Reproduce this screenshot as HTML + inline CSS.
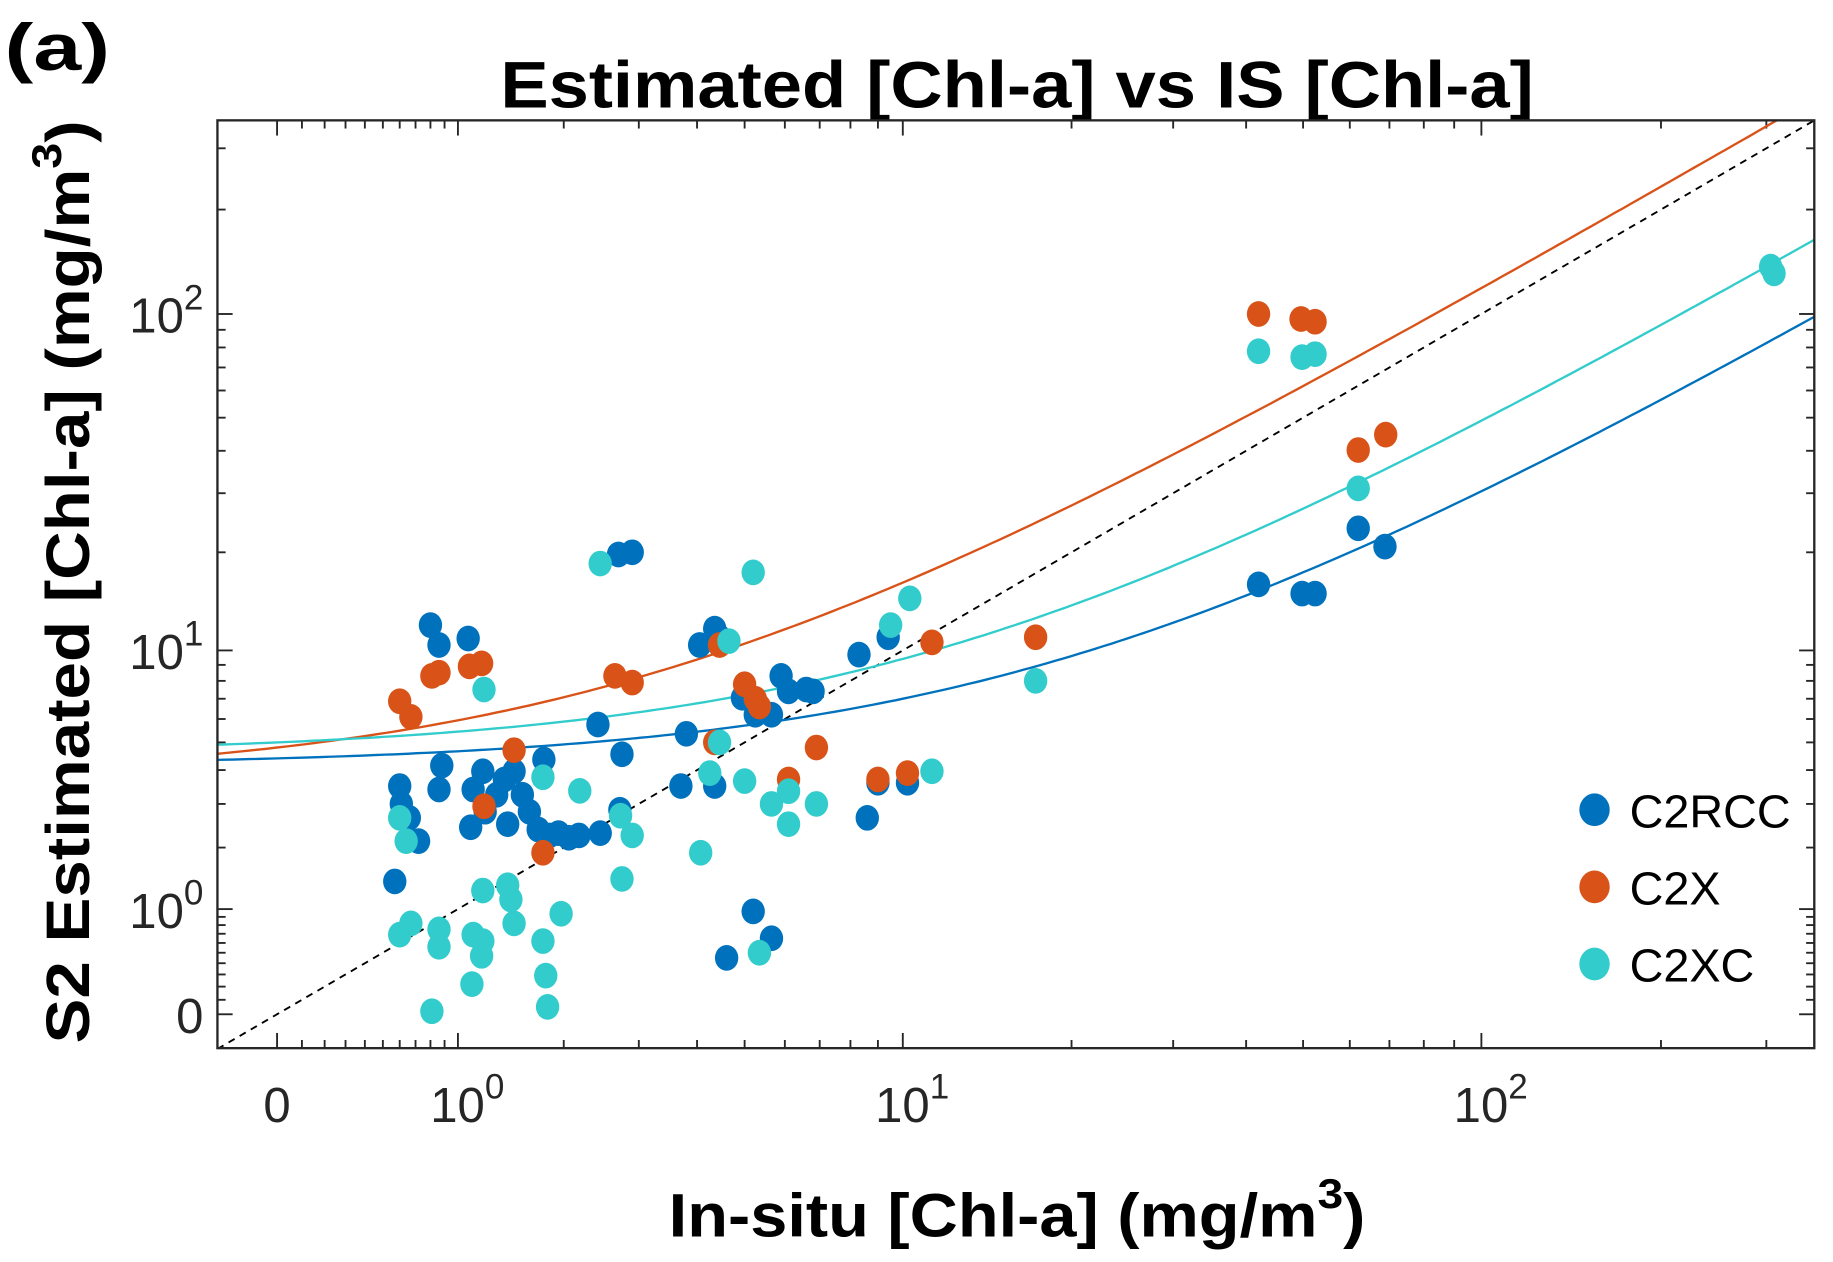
<!DOCTYPE html>
<html><head><meta charset="utf-8"><style>
html,body{margin:0;padding:0;background:#fff;}
svg{display:block;}
text{font-family:"Liberation Sans",sans-serif;}
</style></head><body>
<svg id="chart" width="1833" height="1262" viewBox="0 0 1568 1080" preserveAspectRatio="none" xmlns="http://www.w3.org/2000/svg">
<rect width="1568" height="1080" fill="#fff"/>
<text x="4" y="60" font-size="56" font-weight="bold" textLength="90" lengthAdjust="spacingAndGlyphs">(a)</text>
<text x="870" y="92" font-size="56" font-weight="bold" text-anchor="middle" textLength="884" lengthAdjust="spacingAndGlyphs">Estimated [Chl-a] vs IS [Chl-a]</text>
<text x="572" y="1058" font-size="52" font-weight="bold" textLength="596" lengthAdjust="spacingAndGlyphs">In-situ [Chl-a] (mg/m<tspan dy="-24" font-size="36">3</tspan><tspan dy="24">)</tspan></text>
<text transform="translate(76,893) rotate(-90)" x="0" y="0" font-size="52" font-weight="bold" textLength="790" lengthAdjust="spacingAndGlyphs">S2 Estimated [Chl-a] (mg/m<tspan dy="-24" font-size="36">3</tspan><tspan dy="24">)</tspan></text>
<g id="plot"></g>
</svg>
<script>
const xTickValues = [0, 1, 10, 100];
const xTickLabels = ["0", "10|0", "10|1", "10|2"];
const yTickValues = [0, 1, 10, 100];
const yTickLabels = ["0", "10|0", "10|1", "10|2"];
const seriesNames = ["C2RCC", "C2X", "C2XC"];
const seriesColors = ["#0072BD", "#D95319", "#33CCCC"];

const c2rccX = [0.80,0.86,1.08,0.60,0.61,0.66,0.72,0.88,0.86,1.12,1.20,1.10,1.22,1.32,1.39,1.48,1.42,1.56,1.63,1.72,1.78,1.84,1.94,2.06,2.18,2.45,0.57,2.42,2.72,2.75,2.9,2.7,4.05,4.35,4.45,3.8,3.7,4.35,4.95,5.25,5.65,5.9,6.1,6.6,6.8,8.3,9.4,9.0,10.2,8.6,5.2,4.6,5.65,42,49.8,52.4,62,68.8];
const c2rccY = [12.0,10.4,10.9,3.5,3.0,2.65,2.13,4.15,3.4,3.4,3.96,2.43,2.8,3.25,3.7,3.96,2.5,3.25,2.8,2.38,4.36,2.25,2.3,2.2,2.25,2.3,1.4,5.75,2.85,4.55,20.0,19.7,10.4,11.7,11.0,5.35,3.5,3.5,7.05,6.2,6.2,8.3,7.4,7.5,7.4,9.7,11.0,3.6,3.6,2.65,0.97,0.45,0.65,16,15.0,15.0,23.6,20.8];

const c2xX = [0.60,0.67,0.81,0.86,1.09,1.19,1.21,1.48,1.77,2.65,2.9,4.45,4.35,5.0,5.25,5.35,6.1,6.9,9.0,10.2,11.3,17.3,42,49.6,52.4,62,69];
const c2xY = [6.87,6.1,8.3,8.5,8.9,9.1,2.94,4.7,1.9,8.3,7.9,10.4,5.0,7.8,7.0,6.6,3.7,4.8,3.7,3.9,10.6,11.0,100,96.7,95,40.2,44.6];

const c2xcX = [1.21,0.60,0.64,0.60,0.67,0.81,0.86,0.86,1.12,1.20,1.19,1.11,1.20,1.45,1.48,1.42,1.77,1.77,1.80,1.82,1.97,2.19,2.45,2.73,2.9,2.75,4.07,4.25,4.45,4.65,5.0,5.2,5.35,5.65,6.1,6.1,6.9,9.5,10.3,11.3,17.3,42,49.8,52.4,62,305,309];
const c2xcY = [7.5,2.65,2.13,0.69,0.82,0.02,0.75,0.56,0.69,0.62,0.47,0.22,1.26,1.13,0.82,1.34,3.77,0.62,0.29,0.05,0.94,3.36,18.5,2.7,2.25,1.44,1.9,3.9,5.0,10.7,3.65,17.4,0.5,3.0,2.5,3.35,3.0,12.0,14.5,3.96,8.0,78,75,76.5,31,137,131];

const fitSlopes = [0.26, 1.14, 0.44];
const fitIntercepts = [4.4, 4.8, 5.0];

const L=186,R=1552,T=103,B=897;
const X0=237,XK=514,Y0=868,YK=299;
function tx(v){return X0+XK*Math.log10(v+1);}
function ty(v){return Y0-YK*Math.log10(v+1);}
const vMin=Math.pow(10,(L-X0)/XK)-1, vMax=Math.pow(10,(R-X0)/XK)-1;

const NS="http://www.w3.org/2000/svg";
const plot=document.getElementById('plot');
function mk(tag,attrs,parent){const e=document.createElementNS(NS,tag);for(const k in attrs)e.setAttribute(k,attrs[k]);(parent||plot).appendChild(e);return e;}

const defs=mk('defs',{});
const cp=mk('clipPath',{id:'clip'},defs);
mk('rect',{x:L,y:T,width:R-L,height:B-T},cp);

const ticks=mk('g',{stroke:'#262626','stroke-width':1.6});


const minor=[];
for(let i=1;i<=9;i++)minor.push(i/10);
for(let d of [1,10,100])for(let i=2;i<=9;i++)if(d*i<vMax)minor.push(d*i);
minor.forEach(v=>{
  const x=tx(v),y=ty(v);
  if(x>L&&x<R){mk('line',{x1:x,y1:B,x2:x,y2:B-7},ticks);mk('line',{x1:x,y1:T,x2:x,y2:T+7},ticks);}
  if(y>T&&y<B){mk('line',{x1:L,y1:y,x2:L+7,y2:y},ticks);mk('line',{x1:R,y1:y,x2:R-7,y2:y},ticks);}
});
xTickValues.forEach(v=>{const x=tx(v);mk('line',{x1:x,y1:B,x2:x,y2:B-13},ticks);mk('line',{x1:x,y1:T,x2:x,y2:T+13},ticks);});
yTickValues.forEach(v=>{const y=ty(v);mk('line',{x1:L,y1:y,x2:L+13,y2:y},ticks);mk('line',{x1:R,y1:y,x2:R-13,y2:y},ticks);});

function tickLabel(lbl,x,y,anchor,name){
  const t=mk('text',{x:x,y:y,'font-size':42,'text-anchor':anchor,fill:'#262626'});
  
  
  const p=lbl.split('|');
  t.appendChild(document.createTextNode(p[0]));
  if(p[1]!==undefined){const s=mk('tspan',{dy:-20,'font-size':30},t);s.textContent=p[1];}
}
xTickValues.forEach((v,i)=>{const lab=xTickLabels[i];tickLabel(lab,tx(v)+(lab.length>1?8:0),960,'middle','x-tick-label');});
yTickValues.forEach((v,i)=>{tickLabel(yTickLabels[i],174,ty(v)+16,'end','y-tick-label');});

const lines=mk('g',{'clip-path':'url(#clip)',fill:'none'});
const dash=mk('path',{d:'M'+tx(vMin)+','+ty(vMin)+' L'+tx(vMax)+','+ty(vMax),stroke:'#000','stroke-width':1.6,'stroke-dasharray':'6,5'},lines);


[0,1,2].forEach(i=>{
  let d='';
  for(let k=0;k<=200;k++){
    const t=Math.log10(vMin+1)+(Math.log10(vMax+1)-Math.log10(vMin+1))*k/200;
    const v=Math.pow(10,t)-1;
    const yv=fitSlopes[i]*v+fitIntercepts[i];
    d+=(k?'L':'M')+tx(v).toFixed(1)+','+ty(yv).toFixed(1);
  }
  const p=mk('path',{d:d,stroke:seriesColors[i],'stroke-width':2},lines);
  
  
});

const seriesX=[c2rccX,c2xX,c2xcX], seriesY=[c2rccY,c2xY,c2xcY];
[0,1,2].forEach(i=>{
  const g=mk('g',{fill:seriesColors[i]});
  
  
  seriesX[i].forEach((xv,j)=>{
    const c=mk('ellipse',{cx:tx(xv),cy:ty(seriesY[i][j]),rx:10,ry:11},g);
    
    
  });
});

const fr=mk('rect',{x:L,y:T,width:R-L,height:B-T,fill:'none',stroke:'#262626','stroke-width':2});



const lg=mk('g',{});


seriesNames.forEach((n,i)=>{
  const y=693+i*66;
  const c=mk('ellipse',{cx:1364,cy:y,rx:13,ry:14,fill:seriesColors[i]},lg);
  
  
  const t=mk('text',{x:1394,y:y+15,'font-size':40,fill:'#000'},lg);
  
  
  t.textContent=n;
});
</script>
</body></html>
